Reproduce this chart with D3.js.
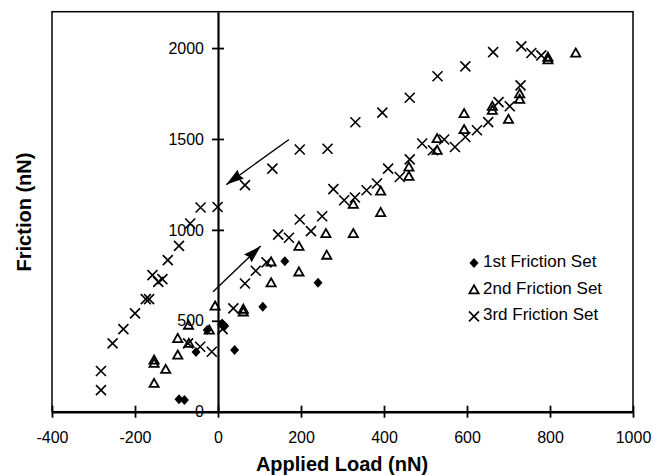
<!DOCTYPE html>
<html>
<head>
<meta charset="utf-8">
<script src="https://cdn.jsdelivr.net/npm/d3@7"></script>
<style>
  body { margin: 0; background: #fff; }
  text { font-family: Arial, "Liberation Sans", sans-serif; fill: #000; }
</style>
</head>
<body>
<div id="chart"></div>
<script>
// data: [applied load (nN), friction (nN)]
const set1 = [[-94, 68], [-81, 64], [-53, 328], [-26, 449], [10, 485], [16, 471],
  [40, 339], [108, 577], [161, 828], [241, 709]]

const set2 = [[-154, 156], [-154, 284], [-154, 266], [-126, 233], [-97, 312], [-97, 403],
  [-70, 376], [-71, 476], [-21, 449], [-7, 581], [61, 564], [61, 549], [128, 824], [128, 709],
  [195, 910], [195, 769], [260, 980], [262, 861], [326, 980], [326, 1141], [392, 1214],
  [392, 1096], [460, 1346], [460, 1295], [528, 1502], [528, 1438], [593, 1640], [593, 1552],
  [661, 1680], [661, 1658], [700, 1608], [727, 1749], [727, 1718], [795, 1936], [795, 1950],
  [862, 1973]]

const set3 = [[-282, 119], [-282, 224], [-254, 376], [-228, 454], [-200, 541], [-174, 619],
  [-166, 619], [-158, 751], [-144, 714], [-134, 729], [-121, 834], [-94, 912], [-67, 1035],
  [-42, 1123], [-1, 1126], [65, 1246], [131, 1337], [197, 1442], [264, 1446], [331, 1592],
  [396, 1645], [462, 1727], [529, 1845], [596, 1899], [663, 1978], [731, 2009], [755, 1973],
  [779, 1960],
  [-72, 376], [-43, 357], [-15, 330], [11, 454], [37, 568], [65, 705], [91, 775], [117, 821],
  [145, 974], [171, 957], [197, 1057], [224, 993], [251, 1075], [278, 1224], [304, 1163],
  [330, 1178], [358, 1218], [383, 1255], [410, 1337], [438, 1291], [462, 1388], [492, 1475],
  [518, 1438], [545, 1497], [571, 1456], [596, 1511], [624, 1548], [651, 1593], [676, 1703],
  [703, 1680], [729, 1795]]

const xTicks = [-400, -200, 0, 200, 400, 600, 800, 1000]
const yTicks = [0, 500, 1000, 1500, 2000]
const legendNames = ["1st Friction Set", "2nd Friction Set", "3rd Friction Set"]

// arrows [from, to]
const arrowUnload = [[171, 1497], [20, 1249]]
const arrowLoad = [[-12, 660], [103, 911]]

//medidas
const width = 654
const height = 475
const margin = { top: 11.7, right: 21, bottom: 63.3, left: 52 }

const svg = d3.select("#chart").append("svg").attr("width", width).attr("height", height)

//escalas
const x = d3.scaleLinear().domain([-400, 1000]).range([margin.left, width - margin.right])
const y = d3.scaleLinear().domain([0, 2200]).range([height - margin.bottom, margin.top])

const plain = d => String(d)

//marco
svg.append("rect")
  .attr("x", x(-400)).attr("y", y(2200))
  .attr("width", x(1000) - x(-400)).attr("height", y(0) - y(2200))
  .attr("fill", "none").attr("stroke", "#000").attr("stroke-width", 1.5)

//eje x
const xAxisGroup = svg.append("g").attr("transform", `translate(0, ${y(0)})`)
xAxisGroup.call(d3.axisBottom(x).tickValues(xTicks).tickFormat(plain).tickSize(6).tickPadding(14).tickSizeOuter(0))
xAxisGroup.select(".domain").attr("stroke-width", 2.5)
xAxisGroup.selectAll(".tick line").attr("y1", -6).attr("y2", 6).attr("stroke-width", 1.8)
xAxisGroup.selectAll(".tick text").attr("font-size", 16).attr("font-family", "Arial, 'Liberation Sans', sans-serif")

//eje y
const yAxisGroup = svg.append("g").attr("transform", `translate(${x(0)}, 0)`)
yAxisGroup.call(d3.axisLeft(y).tickValues(yTicks).tickFormat(plain).tickSize(6).tickPadding(8).tickSizeOuter(0))
yAxisGroup.select(".domain").attr("stroke-width", 2.2)
yAxisGroup.selectAll(".tick line").attr("x1", -6).attr("x2", 6).attr("stroke-width", 1.8)
yAxisGroup.selectAll(".tick text").attr("font-size", 16).attr("font-family", "Arial, 'Liberation Sans', sans-serif")

//simbolos
const shapes = {
  diamond: "M0,-5L4.5,0L0,5L-4.5,0Z",
  triangle: "M0,-4.5L4.6,3.6L-4.6,3.6Z",
  cross: "M-5,-5L5,5M5,-5L-5,5"
}
const styles = [
  { d: shapes.diamond, fill: "#000", stroke: "none", sw: 0 },
  { d: shapes.triangle, fill: "none", stroke: "#000", sw: 1.8 },
  { d: shapes.cross, fill: "none", stroke: "#000", sw: 1.6 }
]

const plot = svg.append("g")
;[set1, set2, set3].forEach((set, i) => {
  plot.selectAll(null).data(set).enter().append("path")
    .attr("transform", d => `translate(${x(d[0])}, ${y(d[1])})`)
    .attr("d", styles[i].d)
    .attr("fill", styles[i].fill)
    .attr("stroke", styles[i].stroke)
    .attr("stroke-width", styles[i].sw)
})

//flechas
svg.append("defs").append("marker")
  .attr("id", "head").attr("viewBox", "0 0 18 11")
  .attr("refX", 18).attr("refY", 5.5)
  .attr("markerWidth", 18).attr("markerHeight", 11)
  .attr("markerUnits", "userSpaceOnUse").attr("orient", "auto")
  .append("path").attr("d", "M0,0L18,5.5L0,11L2,5.5Z").attr("fill", "#000")

;[arrowUnload, arrowLoad].forEach(a => {
  svg.append("line")
    .attr("x1", x(a[0][0])).attr("y1", y(a[0][1]))
    .attr("x2", x(a[1][0])).attr("y2", y(a[1][1]))
    .attr("stroke", "#000").attr("stroke-width", 1.4)
    .attr("marker-end", "url(#head)")
})

//leyenda
const legend = svg.append("g").attr("transform", "translate(474, 263)")
legendNames.forEach((name, i) => {
  const row = legend.append("g").attr("transform", `translate(0, ${i * 26.7})`)
  row.append("path").attr("d", styles[i].d)
    .attr("fill", styles[i].fill).attr("stroke", styles[i].stroke).attr("stroke-width", styles[i].sw)
  row.append("text").text(name).attr("x", 9).attr("y", 4).attr("font-size", 17)
})

//titulos
svg.append("text").text("Applied Load (nN)")
  .attr("x", 342).attr("y", 471).attr("text-anchor", "middle")
  .attr("font-size", 20).attr("font-weight", "bold")
svg.append("text").text("Friction (nN)")
  .attr("transform", "translate(31, 212) rotate(-90)").attr("text-anchor", "middle")
  .attr("font-size", 20).attr("font-weight", "bold")
</script>
</body>
</html>
